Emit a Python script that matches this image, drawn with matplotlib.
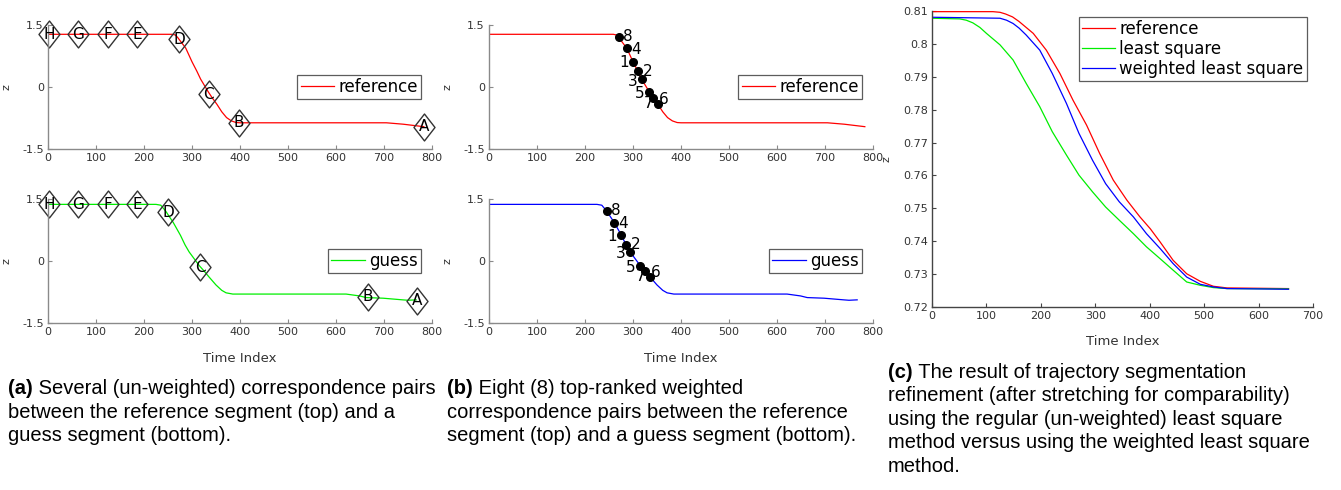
import numpy as np
import matplotlib
matplotlib.use('Agg')
import matplotlib.pyplot as plt
from matplotlib.path import Path

# reference segment (top rows)
ref_t = [0, 100, 200, 259, 265, 270, 287, 300, 310, 318, 334, 342, 352, 362, 372, 382, 392, 400, 500, 600, 705, 740, 783]
ref_z = [1.275, 1.275, 1.275, 1.275, 1.26, 1.20, 0.94, 0.61, 0.385, 0.19, -0.12, -0.26, -0.42, -0.60, -0.74, -0.82, -0.86, -0.866, -0.866, -0.866, -0.866, -0.90, -0.96]

# guess segment (bottom rows)
guess_t = [0, 100, 200, 225, 235, 245, 261, 276, 285.5, 294, 315, 325, 335, 350, 362, 371, 385, 399, 500, 621, 649, 663, 698, 739, 750, 767]
guess_z = [1.37, 1.37, 1.37, 1.37, 1.35, 1.21, 0.93, 0.62, 0.39, 0.22, -0.11, -0.24, -0.38, -0.58, -0.71, -0.77, -0.80, -0.80, -0.80, -0.80, -0.845, -0.885, -0.90, -0.94, -0.95, -0.94]

# un-weighted correspondence pairs (a)
pair_labels = ['H', 'G', 'F', 'E', 'D', 'C', 'B', 'A']
ref_pair_t = [2, 63, 125, 186, 273, 335, 397, 783]
ref_pair_z = [1.28, 1.28, 1.28, 1.28, 1.16, -0.18, -0.87, -0.96]
guess_pair_t = [2, 63, 125, 186, 250, 317, 666, 769]
guess_pair_z = [1.37, 1.37, 1.37, 1.37, 1.18, -0.15, -0.86, -0.96]

# weighted top-ranked pairs (b)
rank_labels = ['8', '4', '1', '2', '3', '5', '7', '6']
ref_rank_t = [270, 287, 300, 310, 318, 334, 342, 352]
ref_rank_z = [1.22, 0.94, 0.61, 0.385, 0.19, -0.12, -0.26, -0.40]
guess_rank_t = [245, 261, 276, 285.5, 294, 315, 325.5, 334.5]
guess_rank_z = [1.21, 0.93, 0.62, 0.39, 0.22, -0.11, -0.24, -0.38]
# label offsets in pixels (dx, dy)
rank_offsets = [(9, 0), (9, -1), (-9, -1), (10, 0), (-9, -2), (-10, -2), (-5, -6), (6, 4)]

# refinement result (c)
c_ref_t = [0, 112, 125, 135, 148, 160, 186, 210, 235, 259, 284, 308, 333, 358, 382, 401, 419, 443, 468, 493, 517, 542, 655]
c_ref_z = [0.8098, 0.8098, 0.8096, 0.8091, 0.8082, 0.8068, 0.8032, 0.7981, 0.7910, 0.7829, 0.7753, 0.7667, 0.7586, 0.7525, 0.7474, 0.7438, 0.7398, 0.7342, 0.7301, 0.7278, 0.7263, 0.7258, 0.7256]
c_ls_t = [0, 51, 63, 75, 88, 100, 125, 149, 173, 198, 221, 247, 270, 295, 319, 344, 370, 394, 419, 443, 468, 493, 517, 542, 655]
c_ls_z = [0.8078, 0.8076, 0.8072, 0.8064, 0.8050, 0.8032, 0.7997, 0.7951, 0.7880, 0.7809, 0.7733, 0.7662, 0.7601, 0.7550, 0.7504, 0.7464, 0.7423, 0.7383, 0.7347, 0.7312, 0.7276, 0.7266, 0.7259, 0.7256, 0.7255]
c_wls_t = [0, 125, 137, 149, 160, 173, 198, 221, 247, 270, 295, 319, 344, 370, 394, 419, 443, 468, 493, 517, 542, 655]
c_wls_z = [0.8081, 0.8078, 0.8072, 0.8062, 0.8048, 0.8027, 0.7981, 0.7910, 0.7819, 0.7728, 0.7646, 0.7575, 0.7520, 0.7474, 0.7423, 0.7378, 0.7332, 0.7291, 0.7269, 0.7261, 0.7256, 0.7254]

captions = {
    'a': ['Several (un-weighted) correspondence pairs',
          'between the reference segment (top) and a',
          'guess segment (bottom).'],
    'b': ['Eight (8) top-ranked weighted',
          'correspondence pairs between the reference',
          'segment (top) and a guess segment (bottom).'],
    'c': ['The result of trajectory segmentation',
          'refinement (after stretching for comparability)',
          'using the regular (un-weighted) least square',
          'method versus using the weighted least square',
          'method.'],
}

W, H = 1341, 490
fig = plt.figure(figsize=(W / 100, H / 100), dpi=100)


def add_ax(left, top, right, bottom):
    # pixel box -> figure fraction
    return fig.add_axes([left / W, 1 - bottom / H, (right - left) / W, (bottom - top) / H])


def style(ax, spine_color='#8a8a8a'):
    for s in ['top', 'right']:
        ax.spines[s].set_visible(False)
    for s in ['left', 'bottom']:
        ax.spines[s].set_color(spine_color)
        ax.spines[s].set_linewidth(1.0)
    ax.tick_params(direction='in', length=3, width=0.8, color=spine_color,
                   labelsize=8, labelcolor='#333333', pad=3)


def add_legend(ax, loc, anchor):
    leg = ax.legend(loc=loc, bbox_to_anchor=anchor, fontsize=12, frameon=True,
                    fancybox=False, borderpad=0.2, borderaxespad=0,
                    handlelength=2.0, handletextpad=0.25, labelspacing=0.1)
    leg.get_frame().set_edgecolor('#333333')
    leg.get_frame().set_linewidth(0.9)


diamond = Path([(0, 1), (0.78, 0), (0, -1), (-0.78, 0), (0, 1)],
               [Path.MOVETO, Path.LINETO, Path.LINETO, Path.LINETO, Path.CLOSEPOLY])


def zpanel(ax, t, z, color, label, xlabel):
    ax.plot(t, z, color=color, lw=0.9, label=label)
    ax.set_xlim(0, 800)
    ax.set_ylim(-1.5, 1.5)
    ax.set_xticks(np.arange(0, 801, 100))
    ax.set_yticks([-1.5, 0, 1.5])
    ax.set_yticklabels(['-1.5', '0', '1.5'])
    ax.set_ylabel('z', fontsize=8, color='#333333')
    ax.yaxis.set_label_coords(-0.094, 0.5)
    if xlabel:
        ax.set_xlabel('Time Index', fontsize=9.5, color='#333333')
        ax.xaxis.set_label_coords(0.5, -29 / 124)
    style(ax)
    add_legend(ax, 'center right', (0.971, 0.5))


def diamonds(ax, t, z):
    ax.plot(t, z, linestyle='none', marker=diamond, markersize=19.4,
            markerfacecolor='none', markeredgecolor='#333333', markeredgewidth=1.0,
            clip_on=False)
    for lab, x, y in zip(pair_labels, t, z):
        ax.text(x, y, lab, ha='center', va='center', fontsize=11, color='black')


def dots(ax, t, z):
    ax.plot(t, z, linestyle='none', marker='o', markersize=5.5, color='black')
    for lab, x, y, (dx, dy) in zip(rank_labels, t, z, rank_offsets):
        ax.annotate(lab, (x, y), xytext=(dx * 0.72, dy * 0.72), textcoords='offset points',
                    ha='center', va='center', fontsize=11, color='black')


# (a)
ax_a1 = add_ax(48, 25, 432, 149)
zpanel(ax_a1, ref_t, ref_z, 'red', 'reference', False)
diamonds(ax_a1, ref_pair_t, ref_pair_z)

ax_a2 = add_ax(48, 199, 432, 323)
zpanel(ax_a2, guess_t, guess_z, '#00ee00', 'guess', True)
diamonds(ax_a2, guess_pair_t, guess_pair_z)

# (b)
ax_b1 = add_ax(489, 25, 873, 149)
zpanel(ax_b1, ref_t, ref_z, 'red', 'reference', False)
dots(ax_b1, ref_rank_t, ref_rank_z)

ax_b2 = add_ax(489, 199, 873, 323)
zpanel(ax_b2, guess_t, guess_z, 'blue', 'guess', True)
dots(ax_b2, guess_rank_t, guess_rank_z)

# (c)
ax_c = add_ax(932, 11, 1313, 307)
ax_c.plot(c_ref_t, c_ref_z, color='red', lw=0.9, label='reference')
ax_c.plot(c_ls_t, c_ls_z, color='#00ee00', lw=0.9, label='least square')
ax_c.plot(c_wls_t, c_wls_z, color='blue', lw=0.9, label='weighted least square')
ax_c.set_xlim(0, 700)
ax_c.set_ylim(0.72, 0.81)
ax_c.set_xticks(np.arange(0, 701, 100))
ax_c.set_yticks(np.arange(0.72, 0.8101, 0.01))
ax_c.set_yticklabels(['0.72', '0.73', '0.74', '0.75', '0.76', '0.77', '0.78', '0.79', '0.8', '0.81'])
ax_c.set_ylabel('z', fontsize=8, color='#333333')
ax_c.yaxis.set_label_coords(-0.105, 0.5)
ax_c.set_xlabel('Time Index', fontsize=9.5, color='#333333')
ax_c.xaxis.set_label_coords(0.5, -28 / 296)
style(ax_c, '#444444')
add_legend(ax_c, 'upper right', (0.984, 0.980))

# captions
cap_font = 'Liberation Sans'
cap_size = 14.5


def caption(key, x, y0, step=23.3):
    for i, line in enumerate(captions[key]):
        y = 1 - (y0 + i * step) / H
        if i == 0:
            t = fig.text(x / W, y, '(%s)' % key, fontsize=cap_size, fontweight='bold',
                         family=cap_font, va='center', ha='left')
            fig.add_artist(plt.Annotation(' ' + line, xy=(1, 0.5), xycoords=t,
                                          va='center', ha='left', fontsize=cap_size,
                                          family=cap_font))
        else:
            fig.text(x / W, y, line, fontsize=cap_size, family=cap_font, va='center', ha='left')


caption('a', 8, 389)
caption('b', 447, 389)
caption('c', 888, 372, 23.5)

fig.savefig('out.png', dpi=100)
